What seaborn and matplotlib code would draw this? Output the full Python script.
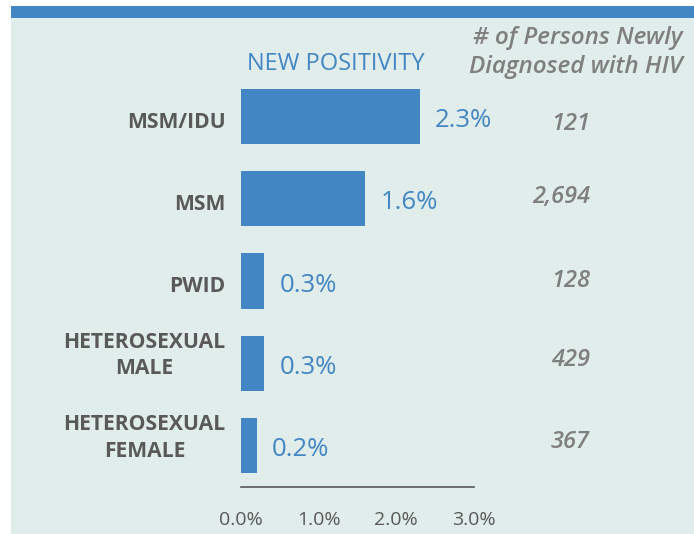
import matplotlib
matplotlib.use("Agg")
import matplotlib.pyplot as plt
from matplotlib.patches import Rectangle
from matplotlib.transforms import ScaledTranslation
import seaborn as sns
import pandas as pd

categories = ["MSM/IDU", "MSM", "PWID", "HETEROSEXUAL\nMALE", "HETEROSEXUAL\nFEMALE"]
positivity = [2.3, 1.6, 0.3, 0.3, 0.2]
value_labels = ["2.3%", "1.6%", "0.3%", "0.3%", "0.2%"]
counts = ["121", "2,694", "128", "429", "367"]
xticks = [0.0, 1.0, 2.0, 3.0]
xtick_labels = ["0.0%", "1.0%", "2.0%", "3.0%"]

sns.set_theme(style="white")
plt.rcParams["font.family"] = ["Open Sans", "DejaVu Sans"]

BLUE = "#4286c4"
PANEL = "#e1edeb"
DARK = "#595959"
GRAY = "#7f7f7f"

W, H = 694, 534
fig = plt.figure(figsize=(W / 100, H / 100), dpi=100)
fig.patch.set_facecolor("white")
fig.patches.append(Rectangle((11 / W, 0), 1 - 11 / W, (H - 18) / H, transform=fig.transFigure,
                             facecolor=PANEL, edgecolor="none", zorder=-10))
fig.patches.append(Rectangle((11 / W, (H - 18) / H), 1 - 11 / W, 12 / H, transform=fig.transFigure,
                             facecolor=BLUE, edgecolor="none", zorder=-10))

left = 241 / W
right = 474 / W
bottom = (H - 487) / H
top = (H - 75.4) / H
ax = fig.add_axes([left, bottom, right - left, top - bottom])
ax.set_facecolor("none")
ax.set_zorder(5)

df = pd.DataFrame({"cat": categories, "val": positivity})
sns.barplot(data=df, y="cat", x="val", orient="h", color=BLUE, saturation=1,
            width=0.67, linewidth=0, ax=ax)
ax.set_xlim(0, 3.0)
ax.set_ylim(4.505, -0.5)
ax.set_xlabel("")
ax.set_ylabel("")
for s in ["top", "right", "left"]:
    ax.spines[s].set_visible(False)
ax.spines["bottom"].set_color(DARK)
ax.spines["bottom"].set_linewidth(1.2)
ax.set_xticks(xticks)
ax.set_xticklabels(xtick_labels, fontsize=14, color=DARK)
ax.tick_params(axis="x", length=0, pad=17)
ax.tick_params(axis="y", length=0, pad=11)
for lbl in ax.get_yticklabels():
    multi = "\n" in lbl.get_text()
    lbl.set_fontsize(15.2)
    lbl.set_fontweight("bold")
    lbl.set_color(DARK)
    lbl.set_multialignment("center")
    lbl.set_linespacing(1.35)
    dy = 13 if multi else -3
    lbl.set_transform(lbl.get_transform() + ScaledTranslation(0, dy / 100, fig.dpi_scale_trans))

for i, (v, t) in enumerate(zip(positivity, value_labels)):
    ax.text(v + 0.2, i + 0.05, t, fontsize=18.5, color=BLUE, ha="left", va="center")

count_dy = [-7, 2, 0, 3, 3]
for i, c in enumerate(counts):
    ax.text(1.0, i, c, fontsize=17, color=GRAY, style="italic", fontweight="semibold",
            ha="right", va="center",
            transform=ax.get_yaxis_transform() + ScaledTranslation(116 / 100, count_dy[i] / 100, fig.dpi_scale_trans))

fig.text(336 / W, (H - 64) / H, "NEW POSITIVITY", fontsize=17, color=BLUE,
         ha="center", va="center")
fig.text(683 / W, (H - 38) / H, "# of Persons Newly", fontsize=17.5, color=GRAY,
         style="italic", fontweight="semibold", ha="right", va="center")
fig.text(683 / W, (H - 67) / H, "Diagnosed with HIV", fontsize=17.5, color=GRAY,
         style="italic", fontweight="semibold", ha="right", va="center")

fig.savefig("out.png", dpi=100)
